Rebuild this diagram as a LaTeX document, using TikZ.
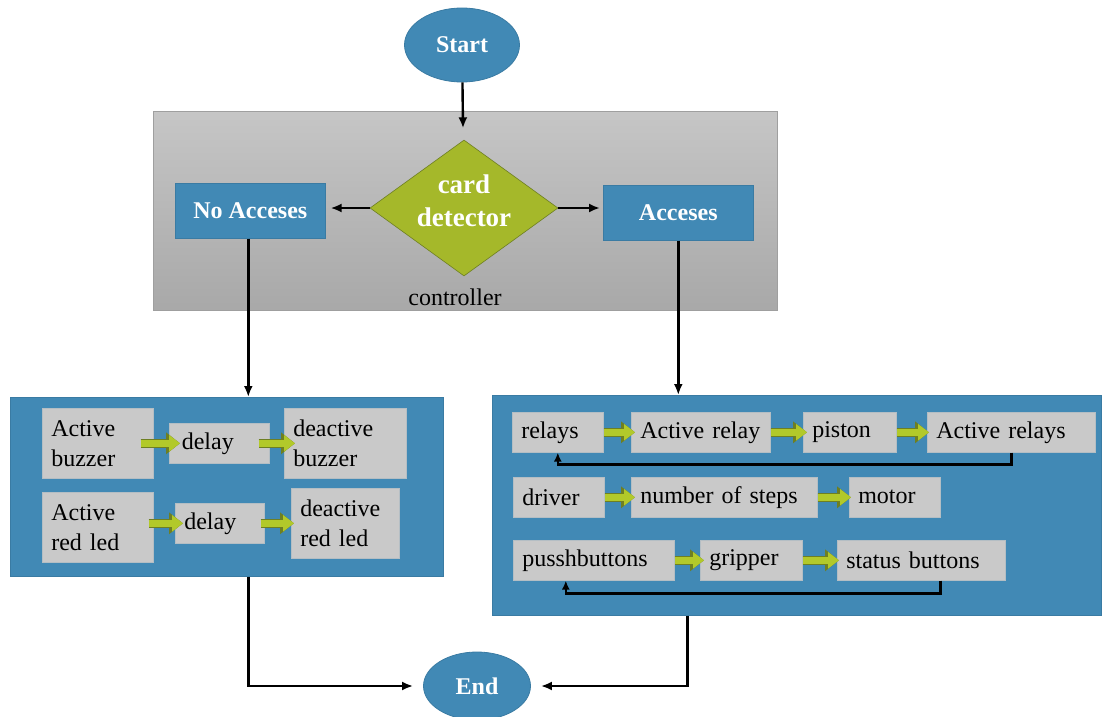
\documentclass[tikz,border=0pt]{standalone}
\usepackage{fontspec}
\setmainfont{Liberation Serif}
\usetikzlibrary{shapes.geometric,arrows.meta}
\definecolor{panelblue}{HTML}{4189B5}
\definecolor{blueedge}{HTML}{3A7BA3}
\definecolor{boxgray}{HTML}{C9C9C9}
\definecolor{boxedge}{HTML}{B4BEC4}
\definecolor{diamondgreen}{HTML}{A5B82A}
\definecolor{arrowgreen}{HTML}{B2C92A}
\definecolor{arrowdark}{HTML}{6E7F22}
\newcommand{\panelfont}{\fontsize{24}{30}\selectfont}
\newcommand{\titlefont}{\fontsize{24}{28}\selectfont\bfseries}
\tikzset{
  term/.style={ellipse,fill=panelblue,draw=blueedge,line width=0.8pt,text=white,font=\titlefont,inner sep=0pt},
  title/.style={rectangle,fill=panelblue,draw=blueedge,line width=0.6pt,text=white,font=\titlefont,anchor=north west,inner sep=0pt},
  panel/.style={rectangle,fill=panelblue,draw=blueedge,line width=0.8pt,anchor=north west,inner sep=0pt},
  gbox/.style={rectangle,fill=boxgray,draw=boxedge,line width=0.6pt,font=\panelfont,anchor=north west,
    inner xsep=9pt,inner ysep=0pt,align=left,text width=#1},
  flow/.style={line width=2.4pt,-{Latex[length=11pt,width=9pt]}},
  back/.style={line width=2.4pt,-{Latex[length=9pt,width=8pt]}},
  garrow/.style={line width=7pt,draw=arrowgreen,-{Triangle[length=11pt,width=16pt]},
    preaction={draw=arrowdark,line width=9pt,-{Triangle[length=14pt,width=21pt]}}}
}
\begin{document}
\begin{tikzpicture}[x=1pt,y=-1pt]
\useasboundingbox (0,0) rectangle (1104,717);

% start and controller
\node[term,minimum width=115pt,minimum height=74pt] (start) at (462,45) {Start};
\node[rectangle,anchor=north west,minimum width=624pt,minimum height=199pt,inner sep=0pt,
  top color=gray!45,bottom color=gray!68,draw=gray!75,line width=0.8pt] (ctrl) at (153,111) {};
\node[font=\fontsize{24}{28}\selectfont] (ctrltext) at (455,297) {controller};
\node[diamond,fill=diamondgreen,draw=arrowdark,line width=0.6pt,minimum width=188pt,minimum height=136pt,
  inner sep=0pt,label={[text=white,align=center,font=\fontsize{27}{33}\selectfont\bfseries,yshift=7pt]center:card\\detector}] (det) at (464,208) {};
\node[title,minimum width=150pt,minimum height=55pt] (noacc) at (175,183) {No Acceses};
\node[title,minimum width=150pt,minimum height=55pt] (acc) at (603,185) {Acceses};

% left panel
\node[panel,minimum width=433pt,minimum height=179pt] (left) at (10,397) {};
\node[gbox=93pt,minimum height=70pt] (ab) at (42,408) {Active\\buzzer};
\node[gbox=75pt,minimum height=40pt,inner xsep=12.5pt] (d1) at (169,423) {delay};
\node[gbox=104pt,minimum height=70pt] (db) at (284,408) {deactive\\buzzer};
\node[gbox=93pt,minimum height=70pt] (arl) at (42,492) {Active\\red led};
\node[gbox=71pt,minimum height=40pt] (d2) at (175,503) {delay};
\node[gbox=90pt,minimum height=70pt] (drl) at (291,488) {deactive\\red led};

% right panel
\node[panel,minimum width=609pt,minimum height=220pt] (right) at (492,395) {};
\node[gbox=73pt,minimum height=40pt] (rel) at (512,412) {relays};
\node[gbox=121pt,minimum height=40pt] (acr) at (631,412) {Active relay};
\node[gbox=75pt,minimum height=40pt] (pis) at (803,412) {piston};
\node[gbox=150pt,minimum height=40pt] (ars) at (927,412) {Active relays};
\node[gbox=73pt,minimum height=40pt] (drv) at (513,477) {driver};
\node[gbox=168pt,minimum height=40pt] (nos) at (631,477) {number of steps};
\node[gbox=73pt,minimum height=40pt] (mot) at (849,477) {motor};
\node[gbox=143pt,minimum height=40pt] (pb) at (513,540) {pusshbuttons};
\node[gbox=84pt,minimum height=40pt] (grp) at (700,540) {gripper};
\node[gbox=150pt,minimum height=40pt] (sb) at (837,540) {status buttons};

\node[term,minimum width=107pt,minimum height=68pt] (end) at (477,686) {End};

% main flow
\draw[flow,shorten >=12pt] (start) -- (det);
\draw[flow,shorten >=5pt] (det.west) -- (det.west -| noacc.east);
\draw[flow,shorten >=3pt] (det.east) -- (det.east -| acc.west);
\draw[flow] ([xshift=-2pt]noacc.south) -- ([xshift=-2pt]noacc.south |- left.north);
\draw[flow] (acc.south) -- (acc.south |- right.north);
\draw[flow,shorten >=10pt] ([xshift=-2pt]noacc.south |- left.south) |- (end.west);
\draw[flow,shorten >=10pt] ([xshift=9pt]acc.south |- right.south) |- (end.east);

% green arrows
\draw[garrow,shorten <=-13pt,shorten >=-11pt] (ab.east |- d1) -- (d1.west);
\draw[garrow,shorten <=-11pt,shorten >=-11pt] (d1.east) -- (db.west |- d1);
\draw[garrow,shorten <=-5pt,shorten >=-8pt] (arl.east |- d2) -- (d2.west);
\draw[garrow,shorten <=-4pt,shorten >=-3pt] (d2.east) -- (drl.west |- d2);
\draw[garrow,shorten >=-4pt] (rel) -- (acr);
\draw[garrow,shorten >=-4pt] (acr) -- (pis);
\draw[garrow,shorten >=-2pt] (pis) -- (ars);
\draw[garrow,shorten >=-4pt] (drv) -- (nos);
\draw[garrow,shorten >=-2pt] (nos) -- (mot);
\draw[garrow,shorten >=-4pt] (pb) -- (grp);
\draw[garrow,shorten >=-2pt] (grp) -- (sb);

% loops back
\draw[back] (ars.south) -- ++(0,12) -| (rel.south);
\draw[back] ([xshift=19pt]sb.south) -- ++(0,13) -| ([xshift=-28pt]pb.south);
\end{tikzpicture}
\end{document}
